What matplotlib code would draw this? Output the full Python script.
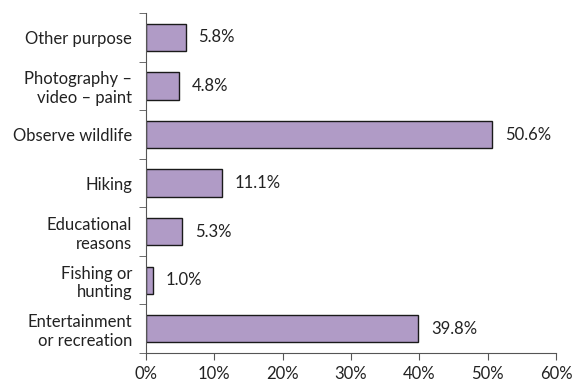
import matplotlib.pyplot as plt
from matplotlib.ticker import FixedLocator

plt.rcParams['font.family'] = ['Lato', 'DejaVu Sans']

# ====== data ======
categories = ["Entertainment\nor recreation", "Fishing or\nhunting", "Educational\nreasons",
              "Hiking", "Observe wildlife", "Photography \u2013\nvideo \u2013 paint", "Other purpose"]
values = [39.8, 1.0, 5.3, 11.1, 50.6, 4.8, 5.8]
x_ticks = [0, 10, 20, 30, 40, 50, 60]

fig = plt.figure(figsize=(5.8, 3.85), dpi=100)
ax = fig.add_axes([0.2517, 0.083, 0.7069, 0.883])

pos = list(range(len(categories)))
ax.barh(pos, values, height=0.56, color='#b09bc6', edgecolor='#1a1a1a', linewidth=1.0)

fs = 12
for p, v in zip(pos, values):
    ax.text(v + 1.9, p, f"{v:.1f}%", va='center', ha='left', fontsize=fs, color='#222222')

ax.set_xlim(0, 60)
ax.set_ylim(-0.5, len(categories) - 0.5)
ax.set_xticks(x_ticks)
ax.set_xticklabels([f"{t}%" for t in x_ticks], fontsize=fs, color='#222222')
ax.set_yticks(pos)
ax.set_yticklabels(categories, fontsize=fs, color='#222222', multialignment='right')
ax.yaxis.set_minor_locator(FixedLocator([i - 0.5 for i in range(len(categories) + 1)]))
ax.tick_params(axis='y', which='major', length=0, pad=10)
ax.tick_params(axis='y', which='minor', length=5, direction='out', color='#555555')
ax.tick_params(axis='x', length=5, direction='out', color='#555555', pad=4)

for s in ['top', 'right']:
    ax.spines[s].set_visible(False)
for s in ['left', 'bottom']:
    ax.spines[s].set_color('#555555')

plt.savefig('out.png', dpi=100)
